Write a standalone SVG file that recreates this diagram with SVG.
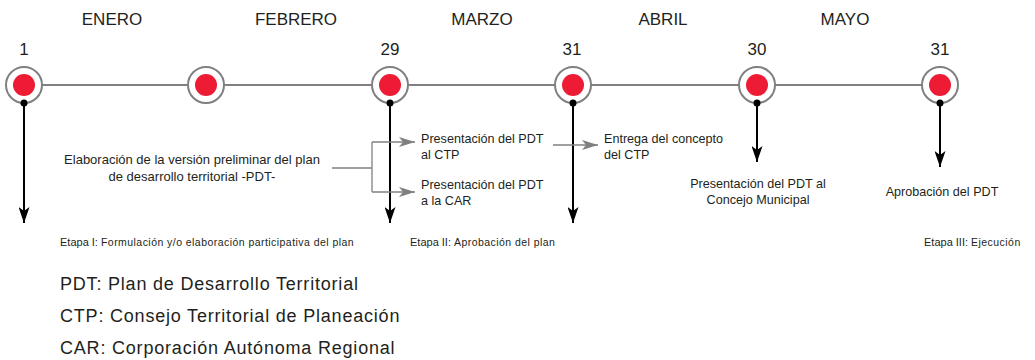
<svg xmlns="http://www.w3.org/2000/svg" width="1035" height="360" viewBox="0 0 1035 360">
<style>
text{font-family:"Liberation Sans",Arial,sans-serif;fill:#231f20}
.m{font-size:17px;text-anchor:middle}
.d{font-size:17px;text-anchor:middle}
.t{font-size:12.6px}
.t2{font-size:13px}
.c{text-anchor:middle}
.e{font-size:11px}
.e2{font-size:10.5px;letter-spacing:0.45px}
.l{font-size:18px;letter-spacing:0.8px}
.ring{fill:#fff;stroke:#808080;stroke-width:2}
.dot{fill:#ed1c34}
.blk{stroke:#000;stroke-width:2;fill:none}
.gry{stroke:#808080;stroke-width:1.3;fill:none}
</style>
<defs>
<marker id="ab" viewBox="0 0 16 11" refX="16" refY="5.5" markerWidth="16" markerHeight="11" markerUnits="userSpaceOnUse" orient="auto"><path d="M0,0 L4,5.5 L0,11 L16,5.5 Z" fill="#000"/></marker>
<marker id="ag" viewBox="0 0 16 10" refX="16" refY="5" markerWidth="16" markerHeight="10" markerUnits="userSpaceOnUse" orient="auto"><path d="M0,0 L16,5 L0,10 L4,5 Z" fill="#808080"/></marker>
</defs>
<g id="months">
<text class="m" x="112" y="25">ENERO</text>
<text class="m" x="296" y="25">FEBRERO</text>
<text class="m" x="482" y="25">MARZO</text>
<text class="m" x="663" y="25">ABRIL</text>
<text class="m" x="845" y="25">MAYO</text>
</g>
<line x1="24" y1="85" x2="940" y2="85" stroke="#808080" stroke-width="2"/>
<g id="connectors">
<line class="blk" x1="24" y1="103" x2="24" y2="223" marker-end="url(#ab)"/>
<line class="blk" x1="390" y1="103" x2="390" y2="223" marker-end="url(#ab)"/>
<line class="blk" x1="573" y1="103" x2="573" y2="223" marker-end="url(#ab)"/>
<line class="blk" x1="757" y1="103" x2="757" y2="162" marker-end="url(#ab)"/>
<line class="blk" x1="940" y1="103" x2="940" y2="167" marker-end="url(#ab)"/>
<path class="gry" d="M332,168 H372"/>
<path class="gry" d="M372,142 V192"/>
<path class="gry" d="M372,142 H415" marker-end="url(#ag)"/>
<path class="gry" d="M372,192 H415" marker-end="url(#ag)"/>
<path class="gry" d="M553,145 H598" marker-end="url(#ag)"/>
</g>
<g id="n1"><circle class="ring" cx="24" cy="85" r="18"/><circle class="dot" cx="24" cy="85" r="11"/><circle cx="24" cy="103" r="3.5"/><text class="d" x="24" y="55">1</text></g>
<g id="n2"><circle class="ring" cx="206" cy="85" r="18"/><circle class="dot" cx="206" cy="85" r="11"/></g>
<g id="n3"><circle class="ring" cx="390" cy="85" r="18"/><circle class="dot" cx="390" cy="85" r="11"/><circle cx="390" cy="103" r="3.5"/><text class="d" x="390" y="55">29</text></g>
<g id="n4"><circle class="ring" cx="573" cy="85" r="18"/><circle class="dot" cx="573" cy="85" r="11"/><circle cx="573" cy="103" r="3.5"/><text class="d" x="572" y="55">31</text></g>
<g id="n5"><circle class="ring" cx="757" cy="85" r="18"/><circle class="dot" cx="757" cy="85" r="11"/><circle cx="757" cy="103" r="3.5"/><text class="d" x="757" y="55">30</text></g>
<g id="n6"><circle class="ring" cx="940" cy="85" r="18"/><circle class="dot" cx="940" cy="85" r="11"/><circle cx="940" cy="103" r="3.5"/><text class="d" x="940" y="55">31</text></g>
<g id="elab"><text class="t2 c" x="192" y="164">Elaboración de la versión preliminar del plan</text><text class="t2 c" x="192" y="181">de desarrollo territorial -PDT-</text></g>
<g id="pctp"><text class="t" x="421" y="143">Presentación del PDT</text><text class="t" x="421" y="159">al CTP</text></g>
<g id="pcar"><text class="t" x="421" y="189">Presentación del PDT</text><text class="t" x="421" y="205">a la CAR</text></g>
<g id="ectp"><text class="t" x="604" y="143">Entrega del concepto</text><text class="t" x="604" y="159">del CTP</text></g>
<g id="pcm"><text class="t c" x="758" y="188">Presentación del PDT al</text><text class="t c" x="758" y="204">Concejo Municipal</text></g>
<g id="apr"><text class="t c" x="942" y="196">Aprobación del PDT</text></g>
<g id="etapas">
<text x="60" y="246"><tspan class="e">Etapa I: </tspan><tspan class="e2">Formulación y/o elaboración participativa del plan</tspan></text>
<text x="410" y="246"><tspan class="e">Etapa II: </tspan><tspan class="e2">Aprobación del plan</tspan></text>
<text x="924" y="246"><tspan class="e">Etapa III: </tspan><tspan class="e2">Ejecución</tspan></text>
</g>
<g id="legend">
<text class="l" x="60" y="290">PDT: Plan de Desarrollo Territorial</text>
<text class="l" x="60" y="322">CTP: Consejo Territorial de Planeación</text>
<text class="l" x="60" y="354">CAR: Corporación Autónoma Regional</text>
</g>
</svg>
